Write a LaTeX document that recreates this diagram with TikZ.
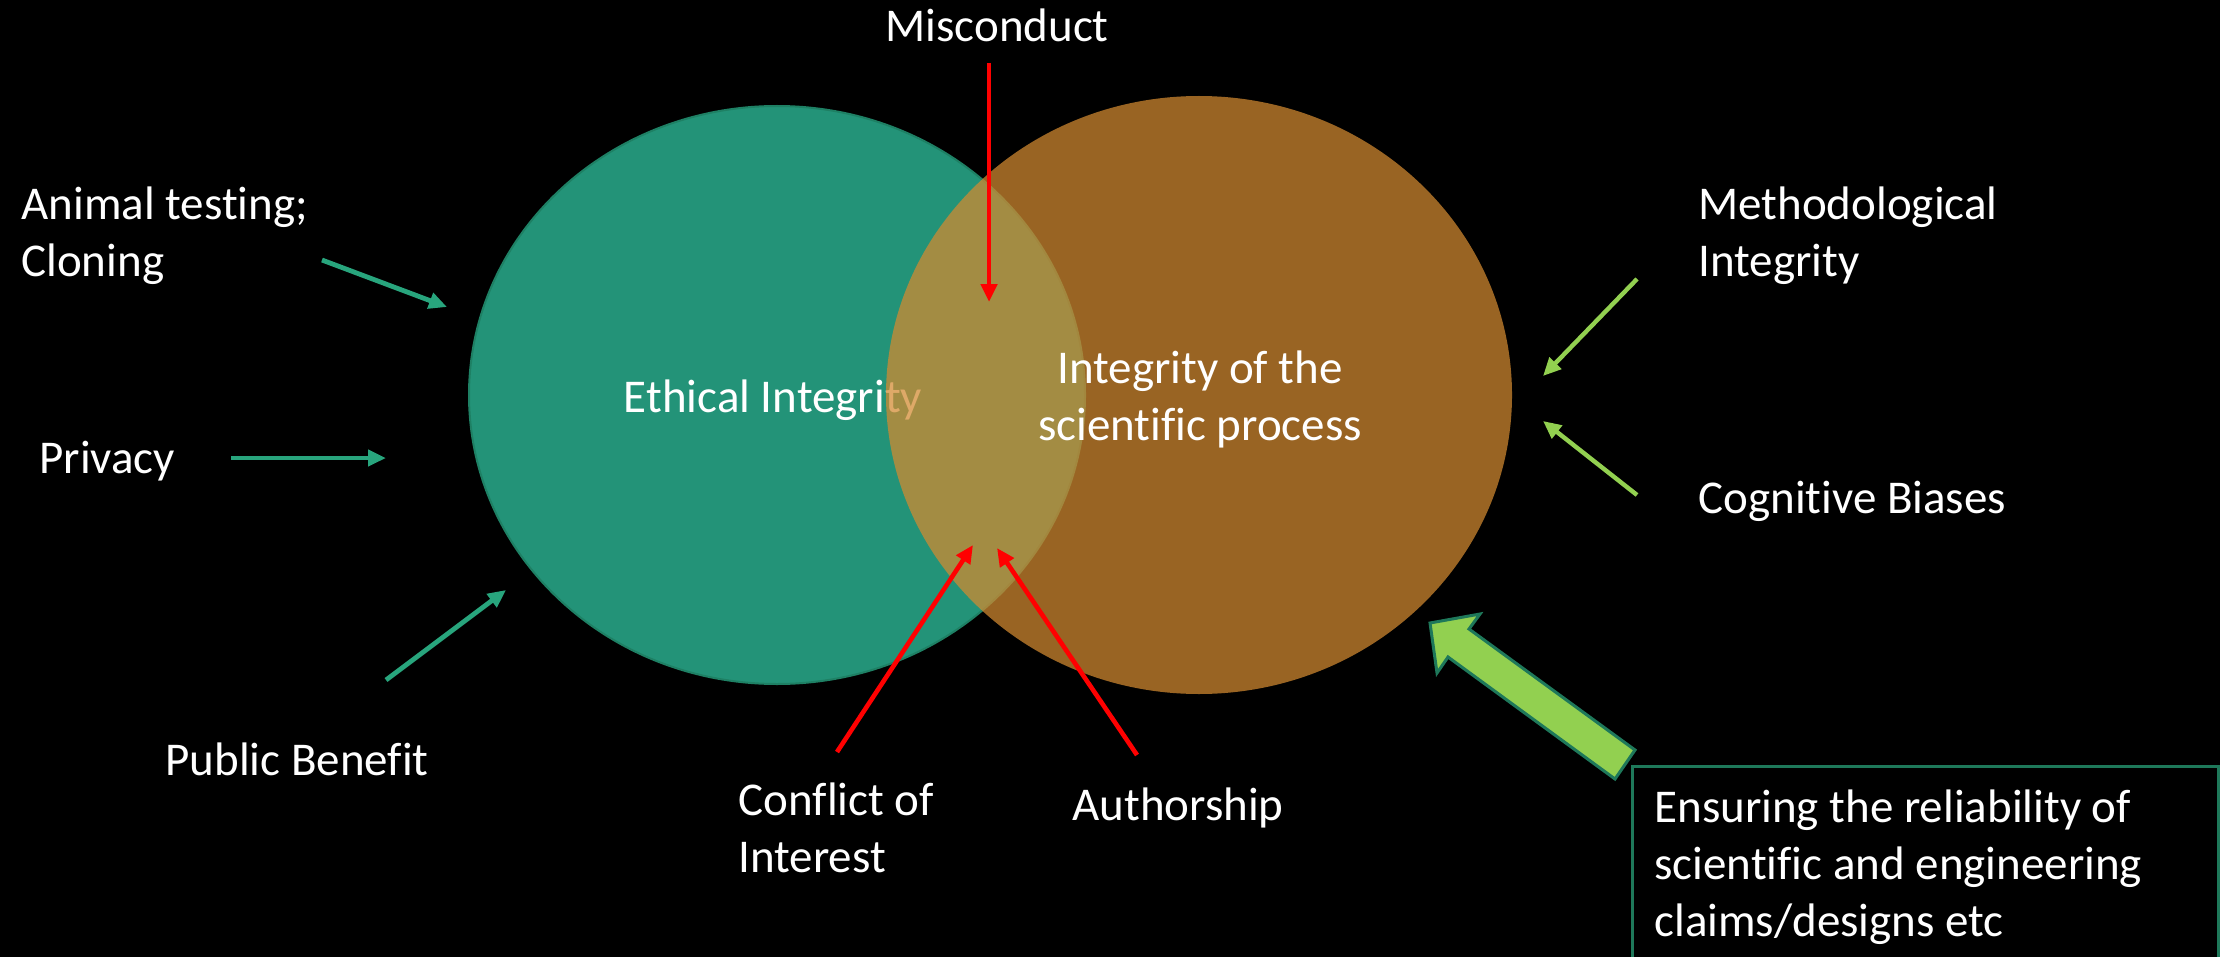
\documentclass[tikz,border=0pt]{standalone}
\usepackage{fontspec}
\setmainfont{Carlito}[Ligatures=NoCommon]
\usetikzlibrary{arrows.meta,shapes.geometric}
\definecolor{ethgreen}{RGB}{35,147,120}
\definecolor{greenedge}{RGB}{30,128,100}
\definecolor{procorange}{RGB}{211,138,48}
\definecolor{tealarr}{RGB}{40,165,125}
\definecolor{limearr}{RGB}{146,208,80}
\definecolor{boxedge}{RGB}{30,120,90}
\definecolor{redarr}{RGB}{255,0,0}
\begin{document}
\begin{tikzpicture}[x=0.5pt,y=-0.5pt,
  lbl/.style={text=white, inner sep=0pt, font=\fontsize{23.5}{28.5}\selectfont},
  arr/.style={line width=2.4pt, -{Triangle[length=9pt,width=8pt]}},
  tealline/.style={arr, draw=tealarr},
  redline/.style={arr, draw=redarr, line width=2.3pt},
  limeline/.style={arr, draw=limearr, line width=2.2pt},
  venn/.style={ellipse, inner sep=0pt}
]
\fill[black] (0,0) rectangle (2220,957);
\useasboundingbox (0,0) rectangle (2220,957);
\clip (0,0) rectangle (2220,957);

% Venn circles
\node[venn, fill=ethgreen, draw=greenedge, line width=1pt,
      minimum width=308pt, minimum height=289pt] (ethical) at (777,395) {};
\node[lbl, anchor=base] (ethtext) at (773,412) {Ethical Integrity};
\node[venn, fill=procorange, fill opacity=0.73,
      minimum width=313pt, minimum height=299pt] (process) at (1199,395) {};
\node[lbl, anchor=base] (proctext) at (1200,383)
      {\begin{tabular}[t]{@{}c@{}}Integrity of the\\scientific process\end{tabular}};

% labels
\node[lbl, anchor=base west] (misc) at (885,42) {Misconduct};
\node[lbl, anchor=base west] (animal) at (21,220) {\begin{tabular}[t]{@{}l@{}}Animal testing;\\Cloning\end{tabular}};
\node[lbl, anchor=base west] (privacy) at (39,473) {Privacy};
\node[lbl, anchor=base west] (public) at (165,775) {Public Benefit};
\node[lbl, anchor=base west] (conflict) at (738,815) {\begin{tabular}[t]{@{}l@{}}Conflict of\\Interest\end{tabular}};
\node[lbl, anchor=base west] (author) at (1072,820) {Authorship};
\node[lbl, anchor=base west] (method) at (1698,220) {\begin{tabular}[t]{@{}l@{}}Methodological\\Integrity\end{tabular}};
\node[lbl, anchor=base west] (cog) at (1698,513) {Cognitive Biases};
\node[lbl, anchor=north west, inner xsep=11pt, inner ysep=8pt] (ensure) at (1632,766)
  {\begin{tabular}[t]{@{}l@{}}Ensuring the reliability of\\scientific and engineering\\claims/designs etc\end{tabular}};
\draw[boxedge, line width=1.5pt] (ensure.north west) rectangle ++(586,230);

% arrow end points
\coordinate (animS) at (322,260);  \coordinate (animE) at (447,307);
\coordinate (privS) at (231,458);  \coordinate (privE) at (386,458);
\coordinate (pubS) at (386,680);   \coordinate (pubE) at (506,590);
\coordinate (miscS) at (989,63);   \coordinate (miscE) at (989,302);
\coordinate (coiS) at (837,752);   \coordinate (coiE) at (973,545);
\coordinate (autS) at (1137,755);  \coordinate (autE) at (997,548);
\coordinate (metS) at (1637,279);  \coordinate (metE) at (1543,376);
\coordinate (cogS) at (1637,495);  \coordinate (cogE) at (1543,421);

\draw[tealline] (animS) -- (animE);
\draw[tealline] (privS) -- (privE);
\draw[tealline] (pubS) -- (pubE);
\draw[redline] (miscS) -- (miscE);
\draw[redline] (coiS) -- (coiE);
\draw[redline] (autS) -- (autE);
\draw[limeline] (metS) -- (metE);
\draw[limeline] (cogS) -- (cogE);

% big block arrow
\draw[fill=limearr, draw=boxedge, line width=1.5pt, line join=miter]
  (1430,623) -- (1480,614) -- (1469,629) -- (1635,750) -- (1615,779)
  -- (1448,657) -- (1437,673) -- cycle;
\end{tikzpicture}
\end{document}
